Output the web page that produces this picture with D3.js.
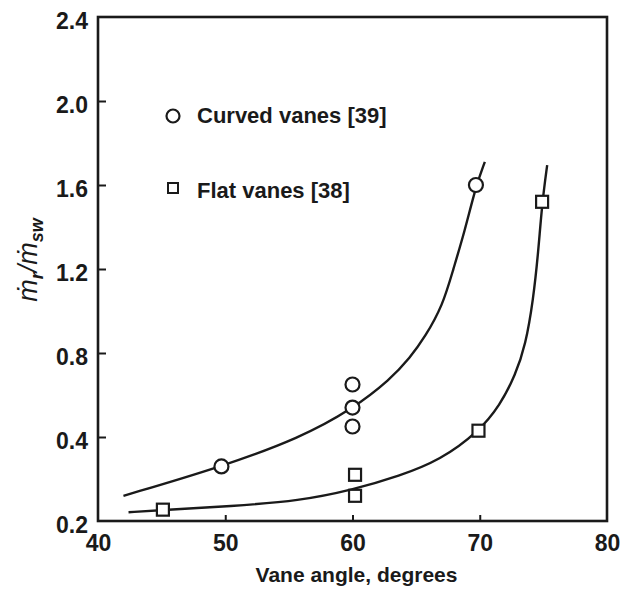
<!DOCTYPE html>
<html>
<head>
<meta charset="utf-8">
<script src="https://cdn.jsdelivr.net/npm/d3@7"></script>
<style>
  body { margin: 0; background: #fff; }
  svg { display: block; }
  .tick text, .label { font-family: "Liberation Sans", Arial, sans-serif; font-weight: bold; fill: #1a1a1a; }
</style>
</head>
<body>
<div class="page"></div>
<script>
// Measured points (vane angle in degrees, mass flow ratio)
var curvedAngle = [49.7, 60, 60, 60, 69.7];
var curvedRatio = [0.33, 0.65, 0.54, 0.45, 1.60];
var flatAngle = [45.1, 60.2, 60.2, 69.9, 74.9];
var flatRatio = [0.227, 0.31, 0.26, 0.43, 1.52];

// Hand-drawn fit curves
var curvedFitAngle = [42.0, 49.7, 55.9, 60.0, 63.0, 64.5, 65.7, 67.1, 67.9, 68.8, 69.7, 70.4];
var curvedFitRatio = [0.26, 0.329, 0.398, 0.533, 0.676, 0.776, 0.876, 1.028, 1.195, 1.376, 1.595, 1.71];
var flatFitAngle = [42.4, 45.1, 50.4, 55.9, 60.0, 63.7, 66.9, 69.9, 71.6, 72.8, 73.6, 74.2, 74.6, 74.9, 75.3];
var flatFitRatio = [0.221, 0.226, 0.235, 0.248, 0.274, 0.307, 0.345, 0.424, 0.552, 0.695, 0.838, 1.052, 1.281, 1.514, 1.695];

var xTicks = [40, 50, 60, 70, 80];
var yTicks = [0.2, 0.4, 0.8, 1.2, 1.6, 2.0, 2.4];

var legendNames = ["Curved vanes [39]", "Flat vanes [38]"];

var w = 626, h = 589;
var ink = "#1a1a1a";

var svg = d3.select(".page").append("svg")
  .attr("xmlns", "http://www.w3.org/2000/svg")
  .attr("width", w)
  .attr("height", h);

var x = d3.scaleLinear().domain([40, 80]).range([98, 607]);
// bottom step (0.2 -> 0.4) is drawn as wide as the 0.4 steps above it
var y = d3.scaleLinear().domain([0.2, 0.4, 2.4]).range([521, 437, 17]);

// Frame around the plot
svg.append("rect")
  .attr("x", x(40))
  .attr("y", y(2.4))
  .attr("width", x(80) - x(40))
  .attr("height", y(0.2) - y(2.4))
  .attr("fill", "none")
  .attr("stroke", ink)
  .attr("stroke-width", 2.6);

// Axes with inward ticks
var xAxis = svg.append("g")
  .attr("transform", "translate(0," + y(0.2) + ")")
  .call(d3.axisBottom(x).tickValues(xTicks).tickSizeInner(-6).tickSizeOuter(0).tickPadding(14));

var yAxis = svg.append("g")
  .attr("transform", "translate(" + x(40) + ",0)")
  .call(d3.axisLeft(y).tickValues(yTicks).tickFormat(d3.format(".1f")).tickSizeInner(-8).tickSizeOuter(0).tickPadding(10));

[xAxis, yAxis].forEach(function(a) {
  a.select(".domain").remove();
  a.selectAll(".tick line").attr("stroke", ink).attr("stroke-width", 2);
  a.selectAll(".tick text").attr("font-size", 23);
});
xAxis.selectAll(".tick text").attr("dy", "0.68em");
yAxis.selectAll(".tick text").attr("dy", "0.48em");
// corner ticks sit on the frame
xAxis.selectAll(".tick line").filter(function(d) { return d == 40 || d == 80; }).remove();
yAxis.selectAll(".tick line").filter(function(d) { return d == 0.2 || d == 2.4; }).remove();

// Fit curves, smoothed through the read points
var line = d3.line()
  .x(function(d) { return x(d[0]); })
  .y(function(d) { return y(d[1]); })
  .curve(d3.curveBasis);

[[curvedFitAngle, curvedFitRatio], [flatFitAngle, flatFitRatio]].forEach(function(s) {
  svg.append("path")
    .datum(d3.zip(s[0], s[1]))
    .attr("d", line)
    .attr("fill", "none")
    .attr("stroke", ink)
    .attr("stroke-width", 2.4);
});

// Markers
svg.selectAll("circle.curved")
  .data(d3.zip(curvedAngle, curvedRatio))
  .enter()
  .append("circle")
  .attr("class", "curved")
  .attr("cx", function(d) { return x(d[0]); })
  .attr("cy", function(d) { return y(d[1]); })
  .attr("r", 7)
  .attr("fill", "#fff")
  .attr("stroke", ink)
  .attr("stroke-width", 2.2);

var sq = 12;
svg.selectAll("rect.flat")
  .data(d3.zip(flatAngle, flatRatio))
  .enter()
  .append("rect")
  .attr("class", "flat")
  .attr("x", function(d) { return x(d[0]) - sq / 2; })
  .attr("y", function(d) { return y(d[1]) - sq / 2; })
  .attr("width", sq)
  .attr("height", sq)
  .attr("fill", "#fff")
  .attr("stroke", ink)
  .attr("stroke-width", 2.2);

// Legend
var legend = svg.append("g");
legend.append("circle")
  .attr("cx", 173).attr("cy", 116).attr("r", 6.5)
  .attr("fill", "none").attr("stroke", ink).attr("stroke-width", 2.2);
legend.append("rect")
  .attr("x", 168).attr("y", 183).attr("width", 10).attr("height", 10)
  .attr("fill", "none").attr("stroke", ink).attr("stroke-width", 2);
legend.selectAll("text")
  .data(legendNames)
  .enter()
  .append("text")
  .attr("class", "label")
  .attr("x", 197)
  .attr("y", function(d, i) { return i == 0 ? 123 : 198; })
  .attr("font-size", 22)
  .text(function(d) { return d; });

// Axis titles
svg.append("text")
  .attr("class", "label")
  .attr("x", (x(40) + x(80)) / 2 + 4)
  .attr("y", 582)
  .attr("text-anchor", "middle")
  .attr("font-size", 21)
  .text("Vane angle, degrees");

var ytitle = svg.append("text")
  .attr("transform", "translate(37,260) rotate(-90)")
  .attr("text-anchor", "middle")
  .attr("font-family", "'Liberation Sans', Arial, sans-serif")
  .attr("font-style", "italic")
  .attr("font-size", 27)
  .attr("fill", ink);
ytitle.append("tspan").text("\u1E41");
ytitle.append("tspan").attr("font-size", 18).attr("dy", 6).attr("font-weight", "bold").text("r");
ytitle.append("tspan").attr("dy", -6).text("/\u1E41");
ytitle.append("tspan").attr("font-size", 18).attr("dy", 6).attr("font-weight", "bold").text("sw");
</script>
</body>
</html>
